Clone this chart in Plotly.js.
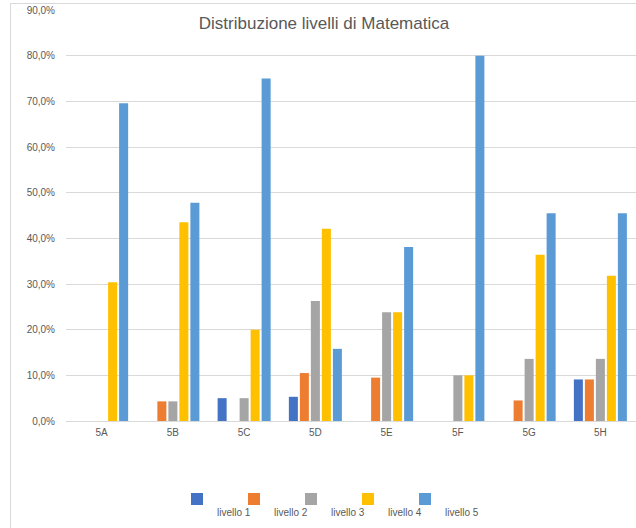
<!DOCTYPE html>
<html>
<head>
<meta charset="utf-8">
<script src="https://cdn.plot.ly/plotly-3.0.1.min.js"></script>
<style>
  html, body { margin: 0; padding: 0; background: #ffffff; }
  #wrap { position: relative; width: 636px; height: 528px; overflow: hidden; }
  #chart { width: 636px; height: 528px; }
  #frame { position: absolute; left: 10px; top: 3px; width: 700px; height: 600px;
           border-left: 1px solid #d9d9d9; border-top: 1px solid #d9d9d9; pointer-events: none; }
</style>
</head>
<body>
<div id="wrap">
  <div id="chart"></div>
  <div id="frame"></div>
</div>
<script>
const categories = ["5A", "5B", "5C", "5D", "5E", "5F", "5G", "5H"];
const seriesNames = ["livello 1", "livello 2", "livello 3", "livello 4", "livello 5"];
const livello1 = [0, 0, 5.0, 5.3, 0, 0, 0, 9.1];
const livello2 = [0, 4.3, 0, 10.5, 9.5, 0, 4.5, 9.1];
const livello3 = [0, 4.3, 5.0, 26.3, 23.8, 10.0, 13.6, 13.6];
const livello4 = [30.4, 43.5, 20.0, 42.1, 23.8, 10.0, 36.4, 31.8];
const livello5 = [69.6, 47.8, 75.0, 15.8, 38.1, 80.0, 45.5, 45.5];
const colors = ["#4472C4", "#ED7D31", "#A5A5A5", "#FFC000", "#5B9BD5"];
const yTicks = [0, 10, 20, 30, 40, 50, 60, 70, 80, 90];
const yTickLabels = ["0,0%", "10,0%", "20,0%", "30,0%", "40,0%", "50,0%", "60,0%", "70,0%", "80,0%", "90,0%"];

const allSeries = [livello1, livello2, livello3, livello4, livello5];
const traces = allSeries.map((vals, i) => ({
  type: "bar",
  name: "<br>" + seriesNames[i],
  x: categories,
  y: vals,
  marker: { color: colors[i], line: { width: 0 } },
  hoverinfo: "x+y"
}));
// invisible spacer legend entry so the last legend label is not clipped
traces.push({
  type: "scatter", mode: "markers", name: " ",
  x: [categories[0]], y: [0], showlegend: true,
  marker: { color: "rgba(0,0,0,0)", size: 1 }, hoverinfo: "skip"
});

const fontFam = "Liberation Sans, Arial, sans-serif";
const layout = {
  width: 636,
  height: 528,
  paper_bgcolor: "#ffffff",
  plot_bgcolor: "#ffffff",
  separators: ",.",
  margin: { l: 66, r: 0, t: 10, b: 107, pad: 0 },
  barmode: "group",
  bargap: 0.228,
  bargroupgap: 0.18,
  title: {
    text: "Distribuzione livelli di Matematica",
    font: { family: fontFam, size: 17, color: "#595959" },
    x: 324 / 636, xanchor: "center", xref: "container",
    y: 1 - 23 / 528, yanchor: "middle", yref: "container"
  },
  xaxis: {
    type: "category",
    showgrid: false,
    showline: false,
    zeroline: false,
    ticks: "",
    tickfont: { family: fontFam, size: 10, color: "#595959" },
    ticklabelstandoff: 4
  },
  yaxis: {
    range: [0, 90],
    tickmode: "array",
    tickvals: yTicks,
    ticktext: yTickLabels,
    showgrid: true,
    gridcolor: "#d9d9d9",
    gridwidth: 1,
    zeroline: true,
    zerolinecolor: "#d9d9d9",
    zerolinewidth: 1,
    showline: false,
    ticks: "",
    tickfont: { family: fontFam, size: 10, color: "#595959" },
    ticklabelstandoff: 10
  },
  showlegend: true,
  legend: {
    orientation: "h",
    x: (177 - 66) / 570,
    xanchor: "left",
    y: 1 - 486 / 528,
    yref: "container",
    yanchor: "top",
    valign: "top",
    font: { family: fontFam, size: 10, color: "#595959" },
    itemwidth: 30,
    entrywidth: 12,
    traceorder: "normal",
    bgcolor: "rgba(0,0,0,0)"
  }
};

Plotly.newPlot("chart", traces, layout, { displayModeBar: false, staticPlot: true });
</script>
</body>
</html>
